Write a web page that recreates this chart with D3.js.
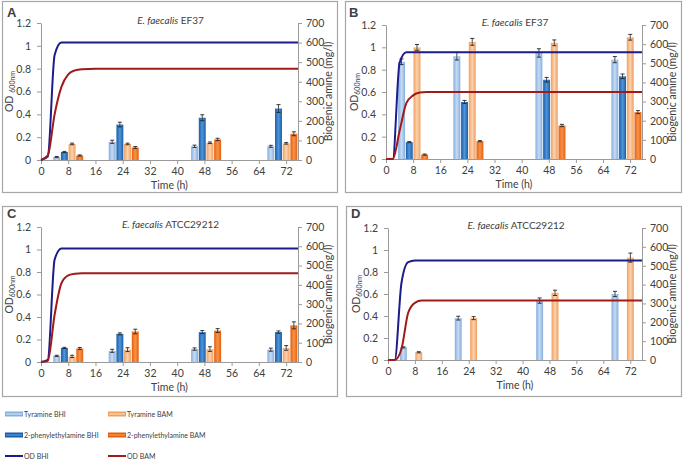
<!DOCTYPE html>
<html><head><meta charset="utf-8">
<script src="https://cdn.jsdelivr.net/npm/d3@7"></script>
<style>
body{margin:0;background:#fff}
svg{display:block}
text{font-family:Lato,"Open Sans",sans-serif;fill:#404040}
</style>
</head><body><svg id="c" width="684" height="460"></svg>
<script>
// ---------- data ----------
const seriesNames = ["Tyramine BHI","2-phenylethylamine BHI","Tyramine BAM","2-phenylethylamine BAM"];
const lineNames = ["OD BHI","OD BAM"];
const timeTicks = [0,8,16,24,32,40,48,56,64,72];
const odTicks = [0,0.2,0.4,0.6,0.8,1,1.2];
const odTickLabels = ["0","0.2","0.4","0.6","0.8","1","1.2"];
const amineTicks = [0,100,200,300,400,500,600,700];
const sampleTimes = [8,24.3,48.5,70.9];

// biogenic amine (mg/l), one array per series: [tyrBHI, pheBHI, tyrBAM, pheBAM]
const amineA = [[15,93,70,70],[41,181,216,263],[82,82,88,85],[23,64,105,134]];
const errA   = [[3,8,6,5],[3,12,15,20],[4,4,4,4],[3,5,6,10]];
const amineB = [[508,537,554,519],[88,298,414,432],[583,612,607,636],[23,93,175,245]];
const errB   = [[15,20,22,16],[3,8,12,12],[15,18,15,15],[3,3,6,8]];
const amineC = [[32,58,67,64],[73,146,155,155],[29,64,67,73],[70,158,163,190]];
const errC   = [[3,8,6,8],[3,5,8,6],[6,10,12,12],[5,12,10,18]];
const amineD = [[67,222,315,350],[null,null,null,null],[41,222,356,543],[null,null,null,null]];
const errD   = [[3,10,14,14],[0,0,0,0],[3,8,14,24],[0,0,0,0]];

// OD600nm growth curves
const odTimes = [0,2,4,6,8,10,12,16,24,48,75.5];
const odBhiA = [0,0.03,0.92,1.03,1.03,1.03,1.03,1.03,1.03,1.03,1.03];
const odBamA = [0,0.04,0.40,0.64,0.75,0.785,0.795,0.80,0.80,0.80,0.80];
const odBhiB = [0,0,0.86,0.955,0.955,0.955,0.955,0.955,0.955,0.955,0.955];
const odBamB = [0,0,0.25,0.50,0.57,0.595,0.60,0.60,0.60,0.60,0.60];
const odBhiC = [0,0.02,0.91,1.01,1.01,1.01,1.01,1.01,1.01,1.01,1.01];
const odBamC = [0,0.01,0.42,0.70,0.77,0.785,0.788,0.788,0.788,0.788,0.788];
const odBhiD = [0,0,0.70,0.89,0.905,0.905,0.905,0.905,0.905,0.905,0.905];
const odBamD = [0,0,0.10,0.43,0.52,0.54,0.54,0.54,0.54,0.54,0.54];

// ---------- style ----------
const barEdge   = ["#86aede","#1c5ca6","#f29e5c","#e3600c"];
const barCenter = ["#c6dbf3","#4d96dc","#fbd3b0","#f8924a"];
const lineColors = ["#1c1c8a","#a01a1a"];

const svg = d3.select("#c");
const defs = svg.append("defs");
barEdge.forEach((c,i)=>{
  const g = defs.append("linearGradient").attr("id","g"+i).attr("x1","0%").attr("x2","100%").attr("y1","0%").attr("y2","0%");
  g.append("stop").attr("offset","0%").attr("stop-color",c);
  g.append("stop").attr("offset","50%").attr("stop-color",barCenter[i]);
  g.append("stop").attr("offset","100%").attr("stop-color",c);
});

const panels = [
  {label:"A", strain:"EF37", box:[2,1,335,191], p:{l:41,r:298,t:23,b:160}, amine:amineA, err:errA, bhi:odBhiA, bam:odBamA, odSpace:true, lab:[7,17]},
  {label:"B", strain:"EF37", box:[345,1,336,191], p:{l:386,r:642,t:25,b:159}, amine:amineB, err:errB, bhi:odBhiB, bam:odBamB, odSpace:false, lab:[349,17]},
  {label:"C", strain:"ATCC29212", box:[2,206,335,190], p:{l:41,r:298,t:227,b:362}, amine:amineC, err:errC, bhi:odBhiC, bam:odBamC, odSpace:false, lab:[7,218]},
  {label:"D", strain:"ATCC29212", box:[346,206,335,190], p:{l:388,r:642,t:228,b:360}, amine:amineD, err:errD, bhi:odBhiD, bam:odBamD, odSpace:false, lab:[351,218]}
];

panels.forEach(P=>{
  const g = svg.append("g");
  g.append("rect").attr("x",P.box[0]+0.5).attr("y",P.box[1]+0.5).attr("width",P.box[2]).attr("height",P.box[3])
    .attr("fill","#fff").attr("stroke","#a6a6a6").attr("stroke-width",1.2);
  const p = P.p;
  const x = d3.scaleLinear().domain([0,75.5]).range([p.l,p.r]);
  const yOD = d3.scaleLinear().domain([0,1.2]).range([p.b,p.t]);
  const yAm = d3.scaleLinear().domain([0,700]).range([p.b,p.t]);
  const slot = d3.scaleBand().domain(seriesNames).range([-15,15]).paddingInner(0.1);

  // axes
  const axL = d3.axisLeft(yOD).tickValues(odTicks).tickFormat((d,i)=>odTickLabels[i]).tickSizeOuter(0).tickSizeInner(4).tickPadding(6);
  const axR = d3.axisRight(yAm).tickValues(amineTicks).tickSizeOuter(0).tickSizeInner(4).tickPadding(4);
  const axB = d3.axisBottom(x).tickValues(timeTicks).tickSizeOuter(0).tickSizeInner(4).tickPadding(4);
  [[axL,`translate(${p.l},0)`],[axR,`translate(${p.r},0)`],[axB,`translate(0,${p.b})`]].forEach(([ax,tr])=>{
    const a = g.append("g").attr("transform",tr).call(ax);
    a.selectAll("path,line").attr("stroke","#9a9a9a").attr("stroke-width",1);
    a.selectAll("text").attr("font-size",10.5).attr("fill","#404040").style("font-family","Lato,'Open Sans',sans-serif");
  });

  // bars
  const bars = g.append("g");
  P.amine.forEach((vals,si)=>{
    vals.forEach((v,ti)=>{
      if(v==null) return;
      const cx = x(sampleTimes[ti]) + slot(seriesNames[si]);
      bars.append("rect").attr("x",cx).attr("y",yAm(v)).attr("width",slot.bandwidth()).attr("height",yAm(0)-yAm(v))
        .attr("fill",`url(#g${si})`);
      const e = P.err[si][ti];
      const mx = cx + slot.bandwidth()/2;
      bars.append("line").attr("x1",mx).attr("x2",mx).attr("y1",yAm(v-e)).attr("y2",yAm(v+e)).attr("stroke","#222").attr("stroke-width",0.8);
      [v-e,v+e].forEach(w=>bars.append("line").attr("x1",mx-2).attr("x2",mx+2).attr("y1",yAm(w)).attr("y2",yAm(w)).attr("stroke","#222").attr("stroke-width",0.9));
    });
  });

  // OD lines
  const line = d3.line().x((d,i)=>x(odTimes[i])).y(d=>yOD(d)).curve(d3.curveMonotoneX);
  [P.bhi,P.bam].forEach((arr,i)=>{
    g.append("path").attr("d",line(arr)).attr("fill","none").attr("stroke",lineColors[i]).attr("stroke-width",2);
  });

  // titles
  const cxm = (p.l+p.r)/2;
  const t = g.append("text").attr("x",cxm+1).attr("y",p.t+1).attr("text-anchor","middle").attr("font-size",10);
  t.append("tspan").attr("font-style","italic").text("E. faecalis");
  t.append("tspan").text(" "+P.strain);

  g.append("text").attr("x",P.lab[0]).attr("y",P.lab[1]).attr("font-size",13).attr("font-weight","bold")
    .style("font-family","'Liberation Sans',Arial,sans-serif").attr("fill","#000").text(P.label);

  g.append("text").attr("x",cxm).attr("y",p.b+29).attr("text-anchor","middle").attr("font-size",10.5).text("Time (h)");

  const yl = g.append("text").attr("transform",`translate(${p.l-28},${(p.t+p.b)/2}) rotate(-90)`).attr("text-anchor","middle").attr("font-size",10.5);
  yl.append("tspan").text("OD");
  yl.append("tspan").attr("font-size",7).attr("dx",P.odSpace?3:0).attr("dy",2).text("600nm");

  g.append("text").attr("transform",`translate(${p.r+34},${(p.t+p.b)/2}) rotate(-90)`).attr("text-anchor","middle").attr("font-size",10.5).text("Biogenic amine (mg/l)");
});

// legend
const legItems = [
  {name:seriesNames[0], kind:"bar", i:0, col:0, row:0},
  {name:seriesNames[2], kind:"bar", i:2, col:1, row:0},
  {name:seriesNames[1], kind:"bar", i:1, col:0, row:1},
  {name:seriesNames[3], kind:"bar", i:3, col:1, row:1},
  {name:lineNames[0], kind:"line", i:0, col:0, row:2},
  {name:lineNames[1], kind:"line", i:1, col:1, row:2}
];
const colX = [5,108], rowY = [414,435,456];
const lg = svg.append("g");
legItems.forEach(it=>{
  const x0 = colX[it.col], y0 = rowY[it.row];
  if(it.kind==="bar"){
    lg.append("rect").attr("x",x0).attr("y",y0-2.5).attr("width",18).attr("height",5).attr("fill",barEdge[it.i]);
    lg.append("rect").attr("x",x0+1).attr("y",y0-0.7).attr("width",16).attr("height",1.4).attr("fill",barCenter[it.i]);
  } else {
    lg.append("line").attr("x1",x0).attr("x2",x0+18).attr("y1",y0).attr("y2",y0).attr("stroke",lineColors[it.i]).attr("stroke-width",2);
  }
  lg.append("text").attr("x",x0+19).attr("y",y0+2.5).attr("font-size",7).attr("fill","#333").text(it.name);
});
</script></body></html>
